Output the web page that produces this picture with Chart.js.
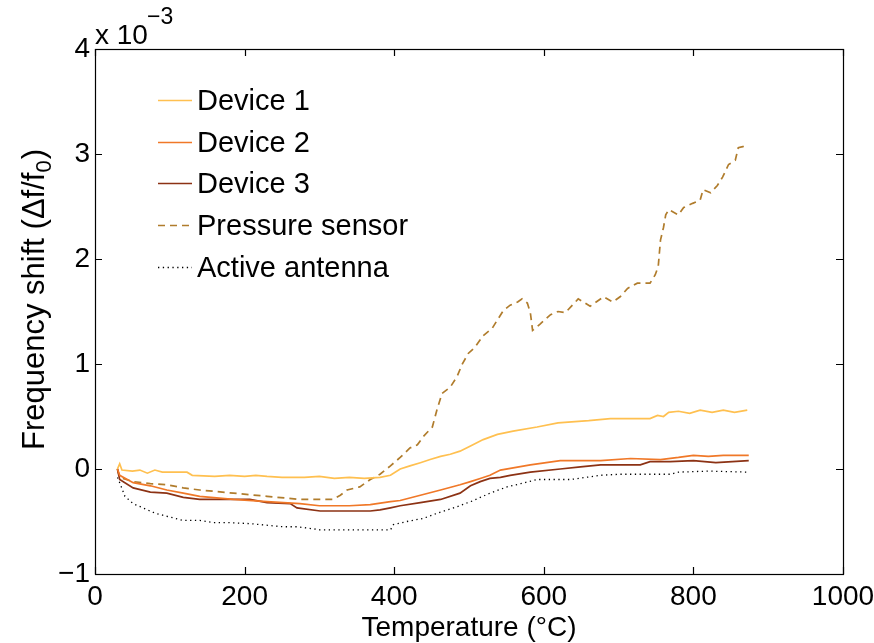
<!DOCTYPE html>
<html>
<head>
<meta charset="utf-8">
<script src="https://cdn.jsdelivr.net/npm/chart.js@4"></script>
<style>
  html, body { margin: 0; padding: 0; background: #fff; }
  #wrap { width: 874px; height: 643px; }
</style>
</head>
<body>
<div id="wrap"><canvas id="myChart" width="874" height="643"></canvas></div>
<script>
// values in units of 1e-3 (df/f0), temperature in deg C
const tDev1 = [30, 33, 36, 50, 60, 70, 80, 90, 100, 123, 130, 160, 180, 200, 215, 230, 250, 280, 300, 320, 340, 360, 381, 395, 408, 421, 435, 448, 462, 475, 488, 502, 519, 538, 559, 591, 619, 660, 689, 742, 752, 760, 767, 780, 795, 809, 825, 840, 855, 872];
const dev1 = [0.0, 0.05, -0.01, -0.02, -0.01, -0.04, -0.01, -0.03, -0.03, -0.03, -0.06, -0.07, -0.06, -0.07, -0.06, -0.07, -0.08, -0.08, -0.07, -0.09, -0.08, -0.09, -0.08, -0.06, 0.0, 0.03, 0.06, 0.09, 0.12, 0.14, 0.17, 0.22, 0.28, 0.33, 0.36, 0.40, 0.44, 0.46, 0.48, 0.48, 0.51, 0.50, 0.54, 0.55, 0.53, 0.56, 0.54, 0.56, 0.54, 0.56];

const tDev2 = [30, 33, 51, 74, 96, 118, 140, 185, 230, 274, 300, 340, 368, 395, 408, 435, 462, 488, 502, 515, 528, 542, 582, 622, 676, 716, 756, 780, 800, 820, 840, 874];
const dev2 = [0.0, -0.06, -0.13, -0.16, -0.2, -0.23, -0.26, -0.29, -0.31, -0.33, -0.35, -0.35, -0.34, -0.31, -0.3, -0.25, -0.2, -0.15, -0.12, -0.09, -0.06, -0.01, 0.04, 0.08, 0.08, 0.1, 0.09, 0.11, 0.13, 0.12, 0.13, 0.13];

const tDev3 = [30, 33, 51, 74, 96, 118, 140, 207, 230, 261, 270, 301, 368, 381, 395, 408, 435, 462, 488, 502, 515, 528, 542, 555, 582, 622, 649, 676, 729, 742, 769, 800, 830, 874];
const dev3 = [0.0, -0.1, -0.18, -0.22, -0.23, -0.27, -0.29, -0.29, -0.32, -0.33, -0.37, -0.4, -0.4, -0.39, -0.37, -0.35, -0.32, -0.29, -0.23, -0.16, -0.12, -0.09, -0.08, -0.06, -0.03, 0.0, 0.02, 0.04, 0.04, 0.07, 0.07, 0.08, 0.06, 0.08];

const tPress = [30, 33, 51, 74, 96, 118, 140, 185, 230, 274, 318, 328, 337, 354, 368, 381, 395, 408, 421, 431, 439, 451, 457, 464, 475, 484, 491, 499, 508, 519, 531, 538, 546, 555, 565, 571, 578, 582, 585, 595, 609, 619, 629, 646, 662, 680, 692, 702, 712, 725, 742, 749, 753, 756, 760, 763, 767, 780, 787, 799, 809, 813, 823, 832, 839, 847, 856, 860, 866, 872];
const press = [0.0, -0.08, -0.12, -0.14, -0.15, -0.18, -0.2, -0.23, -0.26, -0.29, -0.29, -0.25, -0.2, -0.17, -0.1, -0.05, 0.03, 0.11, 0.2, 0.23, 0.31, 0.4, 0.56, 0.72, 0.78, 0.88, 1.0, 1.1, 1.16, 1.27, 1.34, 1.42, 1.51, 1.56, 1.59, 1.62, 1.58, 1.49, 1.32, 1.38, 1.47, 1.5, 1.49, 1.62, 1.55, 1.64, 1.59, 1.64, 1.72, 1.77, 1.77, 1.85, 1.93, 2.18, 2.3, 2.42, 2.47, 2.42, 2.49, 2.53, 2.56, 2.66, 2.63, 2.7, 2.78, 2.9, 2.94, 3.06, 3.07, 3.09];

const tAnt = [30, 33, 40, 51, 64, 80, 96, 118, 140, 158, 177, 207, 251, 270, 292, 301, 350, 395, 399, 417, 439, 462, 484, 506, 528, 551, 569, 591, 636, 676, 702, 769, 780, 820, 874];
const ant = [-0.08, -0.13, -0.26, -0.33, -0.37, -0.42, -0.45, -0.49, -0.49, -0.51, -0.51, -0.52, -0.55, -0.55, -0.57, -0.58, -0.58, -0.58, -0.53, -0.5, -0.47, -0.41, -0.36, -0.3, -0.23, -0.17, -0.14, -0.1, -0.1, -0.06, -0.05, -0.05, -0.03, -0.02, -0.03];

const seriesNames = ['Device 1', 'Device 2', 'Device 3', 'Pressure sensor', 'Active antenna'];
const xTicks = [0, 200, 400, 600, 800, 1000];
const yTicks = [-1, 0, 1, 2, 3, 4];

const FONT = '"Liberation Sans", Arial, Helvetica, sans-serif';

function toPoints(t, v) {
  var pts = [];
  for (var i = 0; i < t.length; i++) pts.push({x: t[i], y: v[i]});
  return pts;
}

// box, inward ticks, legend and axis titles in matlab style
const matlabBits = {
  id: 'matlabBits',
  afterDraw(chart) {
    const c = chart.ctx;
    const a = chart.chartArea;
    const xs = chart.scales.x, ys = chart.scales.y;
    c.save();
    c.strokeStyle = '#000';
    c.lineWidth = 1.2;
    c.strokeRect(Math.round(a.left) + 0.5, Math.round(a.top) + 0.5, Math.round(a.right - a.left), Math.round(a.bottom - a.top));
    c.beginPath();
    xTicks.forEach(v => {
      const px = Math.round(xs.getPixelForValue(v)) + 0.5;
      c.moveTo(px, a.bottom); c.lineTo(px, a.bottom - 7);
      c.moveTo(px, a.top); c.lineTo(px, a.top + 7);
    });
    yTicks.forEach(v => {
      const py = Math.round(ys.getPixelForValue(v)) + 0.5;
      c.moveTo(a.left, py); c.lineTo(a.left + 7, py);
      c.moveTo(a.right, py); c.lineTo(a.right - 7, py);
    });
    c.stroke();

    // exponent label
    c.fillStyle = '#000';
    c.textBaseline = 'alphabetic';
    c.textAlign = 'left';
    c.font = '28px ' + FONT;
    c.fillText('x 10', 95, 44);
    c.font = '23px ' + FONT;
    c.fillText('\u22123', 147, 24);

    // x title
    c.font = '28px ' + FONT;
    c.textAlign = 'center';
    c.textBaseline = 'middle';
    c.fillText('Temperature (\u00B0C)', (a.left + a.right) / 2, 628);

    // y title with subscript
    c.save();
    c.translate(35, 300);
    c.rotate(-Math.PI / 2);
    c.textAlign = 'left';
    c.textBaseline = 'middle';
    const big = '31px ' + FONT, small = '22px ' + FONT;
    c.font = big;
    const p1 = 'Frequency shift (\u0394f/f';
    const w1 = c.measureText(p1).width;
    c.font = small;
    const w2 = c.measureText('0').width;
    c.font = big;
    const w3 = c.measureText(')').width;
    let x0 = -(w1 + w2 + w3) / 2;
    c.fillText(p1, x0, 0);
    c.font = small;
    c.fillText('0', x0 + w1, 10);
    c.font = big;
    c.fillText(')', x0 + w1 + w2 + 1, 0);
    c.restore();

    // legend
    c.font = '29px ' + FONT;
    c.textAlign = 'left';
    c.textBaseline = 'middle';
    chart.data.datasets.forEach((ds, i) => {
      const y = Math.round(100 + i * 41.7) + 0.5;
      c.strokeStyle = ds.borderColor;
      c.lineWidth = ds.borderWidth;
      c.setLineDash(ds.borderDash || []);
      c.beginPath();
      c.moveTo(158, y); c.lineTo(192, y);
      c.stroke();
      c.setLineDash([]);
      c.fillStyle = '#000';
      c.fillText(ds.label, 197, y + 1);
    });
    c.restore();
  }
};

var ctx = document.getElementById('myChart').getContext('2d');
var chart = new Chart(ctx, {
  type: 'line',
  data: {
    datasets: [
      { label: seriesNames[0], data: toPoints(tDev1, dev1), borderColor: 'rgb(255,192,80)', borderWidth: 1.7 },
      { label: seriesNames[1], data: toPoints(tDev2, dev2), borderColor: 'rgb(240,120,40)', borderWidth: 1.7 },
      { label: seriesNames[2], data: toPoints(tDev3, dev3), borderColor: 'rgb(140,50,20)', borderWidth: 1.7 },
      { label: seriesNames[3], data: toPoints(tPress, press), borderColor: 'rgb(176,124,44)', borderWidth: 1.7, borderDash: [7, 5] },
      { label: seriesNames[4], data: toPoints(tAnt, ant), borderColor: 'rgb(0,0,0)', borderWidth: 1.3, borderDash: [1.3, 3.5] }
    ]
  },
  options: {
    responsive: false,
    animation: false,
    layout: { padding: { top: 49, right: 31, left: 0, bottom: 0 } },
    elements: { point: { radius: 0 }, line: { tension: 0, fill: false } },
    plugins: { legend: { display: false }, tooltip: { enabled: false } },
    scales: {
      x: {
        type: 'linear', min: 0, max: 1000,
        afterFit: s => { s.height = 69; s.paddingLeft = 0; s.paddingRight = 0; },
        afterBuildTicks: s => { s.ticks = xTicks.map(v => ({ value: v })); },
        grid: { display: false, drawTicks: false },
        border: { display: false },
        ticks: { color: '#000', padding: 6, maxRotation: 0, font: { family: FONT, size: 28 },
                 callback: v => String(v) }
      },
      y: {
        type: 'linear', min: -1, max: 4,
        afterFit: s => { s.width = 95; s.paddingTop = 0; s.paddingBottom = 0; },
        afterBuildTicks: s => { s.ticks = yTicks.map(v => ({ value: v })); },
        grid: { display: false, drawTicks: false },
        border: { display: false },
        ticks: { color: '#000', padding: 5, font: { family: FONT, size: 28 },
                 callback: v => String(v).replace('-', '\u2212') }
      }
    }
  },
  plugins: [matlabBits]
});
</script>
</body>
</html>
